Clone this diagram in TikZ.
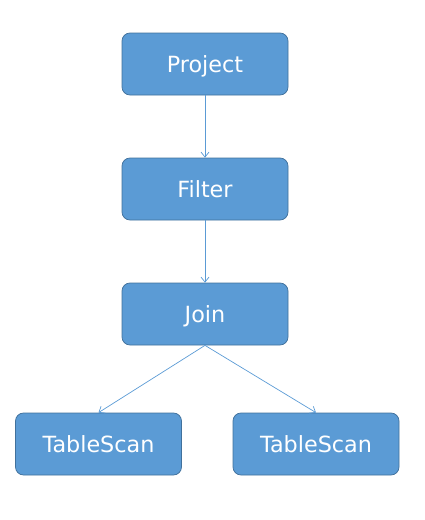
\documentclass[tikz,border=0pt]{standalone}
\usepackage{fontspec}
\setmainfont{DejaVu Sans}
\usetikzlibrary{arrows.meta}
\definecolor{boxfill}{HTML}{5B9BD5}
\definecolor{boxline}{HTML}{41719C}
\definecolor{edgecol}{HTML}{5B9BD5}
\begin{document}
\begin{tikzpicture}[x=1pt,y=-1pt,
  opbox/.style={draw=boxline, line width=0.75pt, fill=boxfill, rounded corners=8pt,
    minimum width=166pt, minimum height=62pt, inner sep=0pt,
    text height=16.3pt, text depth=0pt,
    text=white, font=\fontsize{22.3}{26}\selectfont},
  edge/.style={draw=edgecol, line width=0.7pt, -{Straight Barb[length=5pt,width=8pt,line width=0.7pt]}}]
\useasboundingbox (0,0) rectangle (425,520);
\node[opbox] (project) at (205,64) {Project};
\node[opbox] (filter) at (205,189) {Filter};
\node[opbox] (join) at (205,314) {Join};
\node[opbox] (tsl) at (98.5,444) {TableScan};
\node[opbox] (tsr) at (316,444) {TableScan};
\draw[edge] (project.south) -- (filter.north);
\draw[edge] (filter.south) -- (join.north);
\draw[edge] (join.south) -- (tsl.north);
\draw[edge] (join.south) -- (tsr.north);
\end{tikzpicture}
\end{document}
